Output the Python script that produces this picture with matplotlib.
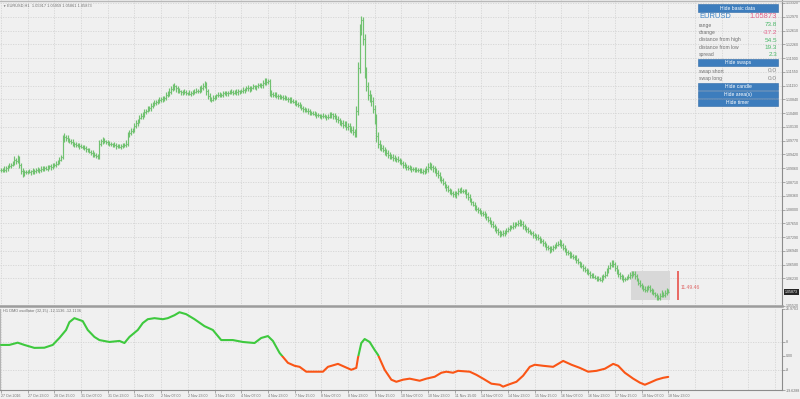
import numpy as np
import matplotlib.pyplot as plt
from matplotlib.patches import Rectangle
from matplotlib.transforms import blended_transform_factory

plt.rcParams['font.family'] = ['Liberation Sans', 'DejaVu Sans']

# EURUSD H1, prices in pips above 1.05000 (one value per bar, open = previous close)
closes = [
    402, 404, 401, 406, 410, 412, 415, 420, 428, 425, 430, 415, 400, 392, 397, 396,
    398, 397, 399, 396, 400, 403, 402, 401, 404, 406, 407, 405, 409, 412, 410, 413,
    415, 418, 423, 428, 435, 482, 488, 484, 480, 477, 474, 471, 469, 467, 465, 463,
    462, 460, 458, 455, 452, 449, 446, 443, 441, 438, 436, 470, 476, 479, 476, 474,
    472, 470, 468, 467, 466, 463, 464, 462, 465, 464, 467, 470, 492, 498, 502, 506,
    515, 522, 529, 536, 540, 546, 551, 555, 559, 562, 567, 571, 575, 578, 580, 582,
    584, 586, 588, 594, 599, 604, 610, 615, 617, 612, 607, 605, 603, 601, 603, 600,
    600, 598, 601, 604, 603, 606, 605, 609, 614, 619, 621, 605, 592, 586, 583, 588,
    591, 594, 595, 597, 596, 599, 598, 600, 601, 603, 603, 601, 604, 602, 605, 603,
    606, 608, 610, 612, 613, 611, 614, 617, 616, 618, 620, 619, 621, 626, 631, 628, 630,
    602, 598, 596, 595, 593, 592, 591, 590, 588, 587, 585, 584, 582, 580, 578, 576,
    573, 569, 566, 562, 559, 557, 555, 553, 551, 549, 547, 546, 544, 543, 541, 540,
    541, 540, 538, 539, 543, 545, 541, 538, 533, 530, 526, 522, 518, 520, 512, 515,
    508, 505, 500, 495, 555, 665, 760, 788, 740, 655, 618, 595, 588, 580, 560, 535,
    490, 470, 462, 458, 454, 450, 445, 441, 438, 436, 433, 431, 430, 428, 424, 420,
    415, 413, 410, 408, 407, 405, 404, 403, 401, 402, 400, 398, 399, 397, 404, 410,
    414, 410, 406, 402, 395, 388, 381, 375, 369, 363, 357, 351, 346, 343, 340, 338,
    342, 347, 351, 349, 348, 346, 339, 332, 325, 319, 313, 307, 302, 298, 294, 291,
    289, 286, 280, 274, 268, 263, 258, 253, 247, 241, 235, 237, 240, 242, 246, 250,
    253, 256, 259, 261, 264, 266, 268, 263, 258, 253, 249, 245, 242, 239, 235, 232,
    229, 226, 222, 218, 213, 209, 204, 200, 196, 199, 203, 206, 209, 212, 214, 208,
    202, 196, 191, 187, 183, 180, 178, 176, 170, 164, 158, 154, 149, 145, 141, 137,
    132, 130, 127, 125, 122, 120, 119, 123, 128, 132, 141, 150, 158, 162, 160, 150,
    142, 135, 128, 124, 120, 122, 125, 127, 132, 138, 135, 128, 120, 112, 105, 100,
    95, 92, 96, 100, 94, 88, 84, 80, 75, 72, 78, 84, 80, 85, 92, 87,
]
hi_wick = [
    5, 4, 7, 5, 4, 8, 5, 6, 9, 5, 11, 7, 5, 8, 4, 5,
    4, 6, 4, 7, 5, 4, 6, 4, 7, 5, 4, 6, 7, 4, 5, 7,
    5, 7, 5, 8, 6, 9, 8, 5, 7, 4, 6, 7, 4, 5, 4, 6,
    5, 4, 7, 5, 4, 6, 4, 7, 5, 4, 6, 8, 7, 9, 5, 4,
    6, 4, 5, 4, 7, 5, 4, 6, 4, 7, 5, 8, 9, 7, 8, 5,
    7, 8, 5, 7, 9, 5, 7, 5, 8, 5, 7, 5, 7, 4, 6, 7,
    5, 7, 5, 8, 7, 8, 7, 9, 8, 5, 7, 5, 4, 6, 7, 5,
    4, 7, 5, 4, 6, 7, 5, 8, 7, 8, 10, 7, 5, 7, 5, 8,
    5, 4, 7, 5, 4, 6, 7, 5, 4, 6, 7, 4, 5, 7, 5, 4,
    5, 7, 4, 6, 7, 5, 4, 7, 5, 4, 6, 7, 5, 8, 9, 7, 5,
    7, 5, 4, 6, 7, 4, 5, 4, 6, 7, 5, 4, 6, 7, 4, 5,
    6, 4, 7, 5, 4, 6, 4, 7, 5, 4, 6, 7, 4, 5, 4, 6,
    7, 5, 4, 6, 7, 5, 4, 7, 5, 8, 7, 5, 9, 7, 8, 7,
    8, 7, 9, 8, 12, 14, 18, 11, 8, 12, 11, 10, 12, 9, 11, 10,
    12, 9, 8, 7, 9, 8, 7, 8, 7, 5, 7, 8, 5, 7, 5, 7,
    5, 7, 5, 4, 7, 5, 4, 6, 7, 5, 4, 8, 5, 7, 8, 9,
    8, 7, 5, 7, 5, 7, 8, 5, 7, 5, 4, 7, 5, 7, 5, 8,
    7, 8, 5, 7, 5, 4, 7, 5, 7, 5, 4, 7, 5, 4, 7, 5,
    5, 7, 5, 4, 7, 5, 7, 5, 4, 6, 7, 8, 7, 5, 7, 5,
    7, 5, 8, 7, 5, 7, 8, 5, 7, 4, 5, 7, 5, 4, 7, 5,
    5, 7, 5, 4, 7, 5, 4, 6, 7, 8, 7, 5, 7, 8, 9, 7,
    5, 7, 5, 4, 6, 7, 5, 4, 7, 5, 4, 6, 7, 5, 4, 6,
    5, 4, 7, 5, 4, 6, 7, 8, 7, 9, 8, 7, 8, 9, 7, 5,
    7, 5, 4, 6, 7, 5, 4, 6, 8, 4, 4, 7, 5, 4, 6, 7,
    5, 7, 8, 7, 5, 4, 7, 5, 4, 6, 7, 8, 5, 7, 6, 4,
]
lo_wick = [
    4, 5, 5, 4, 7, 4, 5, 4, 5, 7, 4, 8, 9, 7, 5, 4,
    5, 4, 7, 5, 4, 6, 4, 7, 5, 4, 6, 4, 5, 4, 7, 5,
    4, 5, 4, 6, 4, 5, 7, 8, 7, 5, 4, 6, 7, 5, 4, 6,
    4, 5, 4, 7, 5, 4, 6, 7, 5, 4, 7, 5, 7, 6, 4, 5,
    5, 7, 4, 6, 4, 7, 5, 4, 7, 5, 4, 6, 7, 5, 7, 6,
    5, 4, 7, 5, 4, 6, 7, 5, 4, 6, 7, 5, 4, 6, 7, 5,
    4, 6, 7, 5, 4, 6, 7, 5, 7, 8, 7, 5, 7, 6, 4, 5,
    5, 4, 6, 7, 5, 4, 6, 4, 7, 5, 7, 9, 8, 7, 5, 4,
    5, 7, 4, 6, 7, 5, 4, 6, 7, 4, 5, 7, 4, 6, 7, 5,
    4, 5, 7, 4, 6, 7, 5, 4, 6, 7, 5, 4, 6, 7, 5, 7, 5,
    9, 7, 5, 4, 6, 7, 5, 4, 7, 5, 4, 6, 7, 5, 4, 6,
    7, 5, 4, 6, 7, 5, 4, 6, 7, 5, 4, 6, 7, 5, 4, 6,
    5, 4, 7, 5, 4, 6, 7, 5, 7, 6, 7, 8, 7, 5, 8, 7,
    7, 8, 7, 9, 8, 12, 13, 11, 15, 16, 13, 12, 11, 13, 12, 14,
    16, 11, 9, 8, 7, 9, 7, 8, 7, 5, 7, 5, 7, 5, 7, 5,
    7, 5, 7, 5, 4, 7, 5, 7, 5, 4, 7, 5, 7, 5, 4, 6,
    5, 7, 8, 7, 8, 7, 8, 7, 5, 7, 8, 5, 7, 5, 7, 5,
    7, 5, 4, 7, 5, 7, 8, 7, 5, 7, 5, 7, 5, 7, 5, 7,
    5, 7, 8, 7, 5, 7, 5, 7, 8, 7, 5, 4, 5, 7, 5, 4,
    5, 4, 5, 7, 4, 5, 7, 5, 7, 5, 7, 5, 4, 5, 7, 5,
    7, 5, 7, 5, 7, 5, 7, 5, 7, 4, 5, 4, 5, 4, 5, 8,
    7, 5, 7, 5, 7, 5, 4, 5, 7, 5, 7, 5, 7, 5, 7, 5,
    7, 5, 4, 5, 7, 5, 4, 5, 4, 5, 4, 5, 4, 5, 7, 8,
    7, 8, 7, 5, 7, 5, 4, 5, 5, 7, 5, 7, 5, 7, 5, 4,
    5, 4, 5, 4, 7, 5, 4, 6, 7, 4, 4, 4, 5, 4, 4, 1,
]

# DMO oscillator, read at these bars
osc_bar = [0, 5, 10, 14, 20, 26, 31, 35, 39, 41, 44, 49, 52, 56, 59, 65, 71, 74, 77, 82,
           85, 88, 92, 97, 100, 104, 107, 111, 116, 122, 127, 132, 139, 145, 152, 156, 160,
           163, 167, 172, 176, 179, 183, 187, 193, 196, 202, 206, 210, 213, 214, 216, 218,
           221, 224, 226, 230, 234, 237, 241, 245, 251, 255, 260, 264, 267, 271, 274, 281,
           285, 289, 294, 299, 301, 304, 309, 313, 317, 320, 325, 331, 337, 342, 347, 352,
           357, 362, 367, 370, 374, 379, 383, 386, 389, 393, 397, 400]
osc_val = [6.3, 6.3, 7.6, 6.3, 4.6, 4.7, 6.3, 10.3, 14.9, 19.4, 21.7, 20.0, 14.9, 10.9, 9.1,
           8.0, 8.6, 7.4, 10.9, 14.9, 18.9, 21.1, 21.7, 21.1, 21.7, 23.4, 25.1, 24.0, 21.1,
           17.1, 14.9, 9.1, 9.1, 8.0, 7.4, 10.3, 11.4, 8.6, 1.7, -4.0, -5.7, -6.3, -9.1, -9.1,
           -9.1, -6.3, -4.6, -6.3, -8.0, -6.9, -1.1, 7.4, 9.7, 8.0, 3.4, 0.6, -8.0, -13.7,
           -14.9, -13.7, -13.1, -14.3, -13.1, -12.0, -9.7, -9.1, -9.7, -8.6, -9.1, -10.9,
           -13.1, -16.0, -16.6, -17.7, -16.6, -14.9, -11.4, -6.3, -5.1, -5.7, -6.3, -2.9,
           -5.1, -6.9, -9.1, -8.6, -7.4, -4.6, -5.7, -9.7, -13.1, -15.4, -16.6, -15.4, -13.7,
           -12.6, -12.1]

time_labels = ["27 Oct 2016", "27 Oct 23:00", "28 Oct 15:00", "31 Oct 07:00", "31 Oct 23:00",
               "1 Nov 15:00", "2 Nov 07:00", "2 Nov 23:00", "3 Nov 15:00", "4 Nov 07:00",
               "4 Nov 23:00", "7 Nov 15:00", "8 Nov 07:00", "8 Nov 23:00", "9 Nov 15:00",
               "10 Nov 07:00", "10 Nov 23:00", "11 Nov 15:00", "14 Nov 07:00", "14 Nov 23:00",
               "15 Nov 15:00", "16 Nov 07:00", "16 Nov 23:00", "17 Nov 15:00", "18 Nov 07:00",
               "18 Nov 23:00"]
price_ticks = [1.13320, 1.12970, 1.12610, 1.12260, 1.11900, 1.11550, 1.11190, 1.10840,
               1.10480, 1.10130, 1.09770, 1.09420, 1.09060, 1.08710, 1.08360, 1.08000,
               1.07650, 1.07290, 1.06940, 1.06580, 1.06230, 1.05520]
osc_ticks = [-19.6288, -8, 0, 8, 26.9703]
osc_tick_labels = ["-19.6288", "-8", "0.00", "8", "26.9703"]

last_price = 1.05873
day_high, day_low = 1.06418, 1.05680
info_rows = [("range", "73.8", "g"), ("change", "-37.2", "r"), ("distance from high", "54.5", "g"),
             ("distance from low", "19.3", "g"), ("spread", "2.3", "g")]
swap_rows = [("swap short", "0.0"), ("swap long", "0.0")]

BG = '#f0f0f0'
GRID = '#d4d4d4'
BAR = '#70c170'
AXC = '#8c8c8c'
TXT = '#6e6e6e'
BTN = '#3d7dbd'
GREEN_V = '#4cb86a'
PINK_V = '#e2608a'

W, H = 800, 399


def fx(x):
    return x / W


def fy(y):
    return 1 - y / H


fig = plt.figure(figsize=(W / 100, H / 100), dpi=100, facecolor=BG)
ax = fig.add_axes([0, fy(306), fx(782), 306 / H])
ax2 = fig.add_axes([0, fy(390), fx(782), 81 / H])

# ---------------------------------------------------------------- price panel
c = np.array(closes, dtype=float)
o = np.r_[c[0], c[:-1]]
hi = np.maximum(o, c) + np.array(hi_wick)
lo = np.minimum(o, c) - np.array(lo_wick)
idx = np.arange(len(c))


def to_price(p):
    return 1.05 + np.asarray(p) / 1e4


ax.set_facecolor(BG)
grid_x = np.arange(0, 470, 16)
for gx in grid_x:
    ax.axvline(gx, color=GRID, lw=0.6, ls=(0, (1.5, 1.5)), zorder=0)
    ax2.axvline(gx, color=GRID, lw=0.6, ls=(0, (1.5, 1.5)), zorder=0)
for gy in price_ticks[:-1]:
    ax.axhline(gy, color=GRID, lw=0.6, ls=(0, (1.5, 1.5)), zorder=0)

# today's range box
ax.add_patch(Rectangle((377.5, day_low), 23.8, day_high - day_low, fc='#d8d8d8', ec='none', zorder=1))

ax.vlines(idx, to_price(lo), to_price(hi), color=BAR, lw=0.85, zorder=2)
ax.hlines(to_price(o), idx - 0.5, idx, color=BAR, lw=0.8, zorder=2)
ax.hlines(to_price(c), idx, idx + 0.5, color=BAR, lw=0.8, zorder=2)

# bar timer
ax.vlines(406, day_low, day_high, color='#e8453c', lw=1.1, zorder=3)
ax.text(407.5, 1.05984, "11.49.46", fontsize=3.6, color='#e06a6a', va='center', ha='left')

ax.set_xlim(-0.6, 468.2)
ax.set_ylim(1.05517, 1.13397)
ax.yaxis.tick_right()
ax.set_yticks(price_ticks)
ax.set_yticklabels([f"{p:.5f}" for p in price_ticks])
ax.tick_params(axis='y', length=2, width=0.5, colors=AXC, labelcolor=TXT, labelsize=2.6, pad=1)
ax.set_xticks([])
for s in ['left', 'top']:
    ax.spines[s].set_visible(False)
ax.spines['right'].set_color(AXC)
ax.spines['right'].set_linewidth(0.8)
ax.spines['bottom'].set_color('#9c9c9c')
ax.spines['bottom'].set_linewidth(1.8)

tr = blended_transform_factory(ax.transAxes, ax.transData)
ax.text(1.004, last_price, f"{last_price:.5f}", transform=tr, fontsize=2.6, color='white',
        va='center', ha='left', bbox=dict(boxstyle='square,pad=0.3', fc='#262626', ec='none'))

fig.text(fx(2), fy(5.5), "\u25bc", fontsize=2.4, color=TXT, va='center', ha='left')
fig.text(fx(7), fy(5.5), "EURUSD,H1  1.05917 1.05959 1.05861 1.05873", fontsize=2.8,
         color=TXT, va='center', ha='left')

# ---------------------------------------------------------------- oscillator panel
ax2.set_facecolor(BG)
for gy in (8, -8):
    ax2.axhline(gy, color=GRID, lw=0.6, ls=(0, (1.5, 1.5)), zorder=0)

line_neg, = ax2.plot(osc_bar, osc_val, color='#fa5516', lw=1.5, solid_joinstyle='round',
                     solid_capstyle='round', zorder=3)
line_pos, = ax2.plot(osc_bar, osc_val, color='#3ec93e', lw=1.5, solid_joinstyle='round',
                     solid_capstyle='round', zorder=3)
line_pos.set_clip_path(Rectangle((-10, 0), 1000, 100, transform=ax2.transData))
line_neg.set_clip_path(Rectangle((-10, -100), 1000, 100, transform=ax2.transData))

ax2.set_xlim(-0.6, 468.2)
ax2.set_ylim(-19.6288, 26.9703)
ax2.yaxis.tick_right()
ax2.set_yticks(osc_ticks)
ax2.set_yticklabels(osc_tick_labels)
ax2.tick_params(axis='y', length=2, width=0.5, colors=AXC, labelcolor=TXT, labelsize=2.6, pad=1)
ax2.set_xticks(np.arange(0, 401, 16))
ax2.set_xticklabels(time_labels)
ax2.tick_params(axis='x', length=2, width=0.5, colors=AXC, labelcolor=TXT, labelsize=2.6, pad=1)
for t in ax2.get_xticklabels():
    t.set_ha('left')
ax2.spines['top'].set_visible(False)
ax2.spines['left'].set_color('#b4b4b4')
ax2.spines['left'].set_linewidth(0.8)
for s in ['right', 'bottom']:
    ax2.spines[s].set_color(AXC)
    ax2.spines[s].set_linewidth(0.8)

fig.text(fx(3), fy(311), "H1 DMO oscillator (32,15) -12.1136 -12.1136", fontsize=2.8,
         color=TXT, va='center', ha='left')

# ---------------------------------------------------------------- info panel
def button(y0, y1, label):
    fig.add_artist(Rectangle((fx(698), fy(y1)), fx(778) - fx(698), (y1 - y0) / H,
                             transform=fig.transFigure, fc=BTN, ec='#2f69a6', lw=0.4))
    fig.text(fx(738), fy((y0 + y1) / 2), label, fontsize=3.6, color='white',
             ha='center', va='center')


button(4.5, 12, "Hide basic data")
fig.text(fx(699), fy(17), "EURUSD", fontsize=5.4, color='#3f86c8', ha='left', va='center')
fig.text(fx(777), fy(17), f"{last_price:.5f}", fontsize=5.4, color=PINK_V, ha='right', va='center')
row_y = [25, 32.5, 40, 47.3, 54.5]
for (name, val, col), y in zip(info_rows, row_y):
    fig.text(fx(699), fy(y), name, fontsize=3.6, color=TXT, ha='left', va='center')
    fig.text(fx(777), fy(y), val, fontsize=4.6, color=GREEN_V if col == 'g' else PINK_V,
             ha='right', va='center')
button(59, 66, "Hide swaps")
for (name, val), y in zip(swap_rows, [71, 78.3]):
    fig.text(fx(699), fy(y), name, fontsize=3.6, color=TXT, ha='left', va='center')
    fig.text(fx(777), fy(y), val, fontsize=4.6, color='#8a8a8a', ha='right', va='center')
button(83, 90, "Hide candle")
button(91, 98, "Hide area(s)")
button(99, 106, "Hide timer")

# window frame line at the top
fig.add_artist(plt.Line2D([0, 1], [fy(0.5), fy(0.5)], transform=fig.transFigure,
                          color='#b8b8b8', lw=1))

fig.savefig('out.png', dpi=100, facecolor=BG)
